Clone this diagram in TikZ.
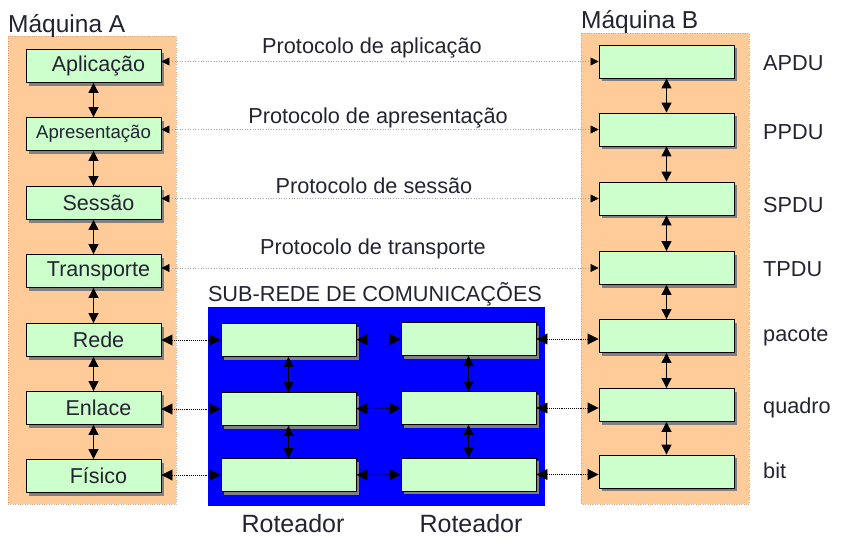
\documentclass[tikz,border=0pt]{standalone}
\usepackage{fontspec}
\setmainfont{Liberation Sans}
\usetikzlibrary{arrows.meta,shadows}
\definecolor{painel}{RGB}{255,204,153}
\definecolor{borda}{RGB}{215,165,125}
\definecolor{camada}{RGB}{204,255,204}
\definecolor{texto}{RGB}{35,35,50}
\definecolor{sombra}{RGB}{128,128,128}

\begin{document}
\begin{tikzpicture}[x=1pt, y=-1pt, line join=round,
  camada/.style={draw=black, line width=0.9pt, fill=camada, minimum width=135pt,
    minimum height=33pt, inner sep=0pt, text=texto, font=\fontsize{21.5}{24}\selectfont,
    drop shadow={shadow xshift=3pt, shadow yshift=-3pt, fill=sombra, opacity=1}},
  nomeA/.style={execute at begin node={\hspace*{10pt}}},
  rotulo/.style={text=texto, inner sep=0pt, font=\fontsize{21.7}{24}\selectfont},
  pilha/.style={{Triangle[length=10pt,width=10pt]}-{Triangle[length=10pt,width=10pt]}, line width=1.3pt},
  protocolo/.style={{Triangle[length=8pt,width=8pt,black]}-{Triangle[length=8pt,width=8pt,black]},
    black!35, dotted, line width=0.6pt},
  fisico/.style={{Triangle[length=11pt,width=11pt,black]}-{Triangle[length=11pt,width=11pt,black]},
    densely dotted, line width=0.9pt}]

\useasboundingbox (0,0) rectangle (846,546);

\def\xa{93.5}
\def\xb{666.5}
\def\xra{288.5}
\def\xrb{468.5}

% paineis das maquinas e da sub-rede
\fill[painel] (8,36) rectangle (176,504);
\draw[borda, dotted] (8,36) rectangle (176,504);
\fill[painel] (581,33) rectangle (749,504);
\draw[borda, dotted] (581,33) rectangle (749,504);
\fill[blue] (208,307) rectangle (545,506);

\node[rotulo, anchor=base west, font=\fontsize{24.5}{28}\selectfont] (tMaqA) at (8,32) {Máquina A};
\node[rotulo, anchor=base west, font=\fontsize{24.5}{28}\selectfont] (tMaqB) at (581,28) {Máquina B};

% maquina A
\node[camada, nomeA] (aAplic) at (\xa,66) {Aplicação};
\node[camada, font=\fontsize{18.6}{20}\selectfont] (aApres) at (\xa,134) {Apresentação};
\node[camada, nomeA] (aSess) at (\xa,203) {Sessão};
\node[camada, nomeA] (aTransp) at (\xa,271) {Transporte};
\node[camada, nomeA] (aRede) at (\xa,340) {Rede};
\node[camada, nomeA] (aEnl) at (\xa,408) {Enlace};
\node[camada, nomeA] (aFis) at (\xa,476) {Físico};

% maquina B
\node[camada] (bAplic) at (\xb,61.5) {};
\node[camada] (bApres) at (\xb,129.5) {};
\node[camada] (bSess) at (\xb,198.5) {};
\node[camada] (bTransp) at (\xb,268) {};
\node[camada] (bRede) at (\xb,336) {};
\node[camada] (bEnl) at (\xb,405) {};
\node[camada] (bFis) at (\xb,471.5) {};

% roteadores
\node[camada] (raRede) at (\xra,340) {};
\node[camada] (raEnl) at (\xra,409) {};
\node[camada] (raFis) at (\xra,475) {};
\node[camada] (rbRede) at (\xrb,339) {};
\node[camada] (rbEnl) at (\xrb,408) {};
\node[camada] (rbFis) at (\xrb,474.5) {};

% ligacoes verticais
\draw[pilha] (aAplic) -- (aApres);
\draw[pilha] (aApres) -- (aSess);
\draw[pilha] (aSess) -- (aTransp);
\draw[pilha] (aTransp) -- (aRede);
\draw[pilha] (aRede) -- (aEnl);
\draw[pilha] (aEnl) -- (aFis);
\draw[pilha] (bAplic) -- (bApres);
\draw[pilha] (bApres) -- (bSess);
\draw[pilha] (bSess) -- (bTransp);
\draw[pilha] (bTransp) -- (bRede);
\draw[pilha] (bRede) -- (bEnl);
\draw[pilha] (bEnl) -- (bFis);
\draw[pilha] (raRede) -- (raEnl);
\draw[pilha] (raEnl) -- (raFis);
\draw[pilha] (rbRede) -- (rbEnl);
\draw[pilha] (rbEnl) -- (rbFis);

% protocolos fim a fim
\draw[protocolo] (aAplic.east |- bAplic) -- (bAplic.west);
\draw[protocolo] (aApres.east |- bApres) -- (bApres.west);
\draw[protocolo] (aSess.east |- bSess) -- (bSess.west);
\draw[protocolo] (aTransp.east |- bTransp) -- (bTransp.west);

\node[rotulo, anchor=base] (pAplic) at (372,53) {Protocolo de aplicação};
\node[rotulo, anchor=base] (pApres) at (378,123) {Protocolo de apresentação};
\node[rotulo, anchor=base] (pSess) at (374,193) {Protocolo de sessão};
\node[rotulo, anchor=base] (pTransp) at (373,254) {Protocolo de transporte};

% sub-rede
\draw[fisico] (aRede.east |- raRede) -- (raRede.west);
\draw[fisico] (raRede) -- (rbRede);
\draw[fisico] (rbRede.east) -- (rbRede.east -| bRede.west);
\draw[fisico] (aEnl.east |- raEnl) -- (raEnl.west);
\draw[fisico] (raEnl) -- (rbEnl);
\draw[fisico] (rbEnl.east) -- (rbEnl.east -| bEnl.west);
\draw[fisico] (aFis.east |- raFis) -- (raFis.west);
\draw[fisico] (raFis) -- (rbFis);
\draw[fisico] (rbFis.east) -- (rbFis.east -| bFis.west);

\node[rotulo, anchor=base] (tSub) at (375,301) {SUB-REDE DE COMUNICAÇÕES};
\node[rotulo, anchor=base, font=\fontsize{25}{28}\selectfont] (tRotA) at (293,532) {Roteador};
\node[rotulo, anchor=base, font=\fontsize{25}{28}\selectfont] (tRotB) at (471,532) {Roteador};

% unidades de dados
\node[rotulo, anchor=base west] (uA) at (763,70) {APDU};
\node[rotulo, anchor=base west] (uP) at (763,139) {PPDU};
\node[rotulo, anchor=base west] (uS) at (763,212) {SPDU};
\node[rotulo, anchor=base west] (uT) at (763,276) {TPDU};
\node[rotulo, anchor=base west] (uR) at (763,341) {pacote};
\node[rotulo, anchor=base west] (uE) at (763,413) {quadro};
\node[rotulo, anchor=base west] (uF) at (763,478) {bit};

\end{tikzpicture}
\end{document}
